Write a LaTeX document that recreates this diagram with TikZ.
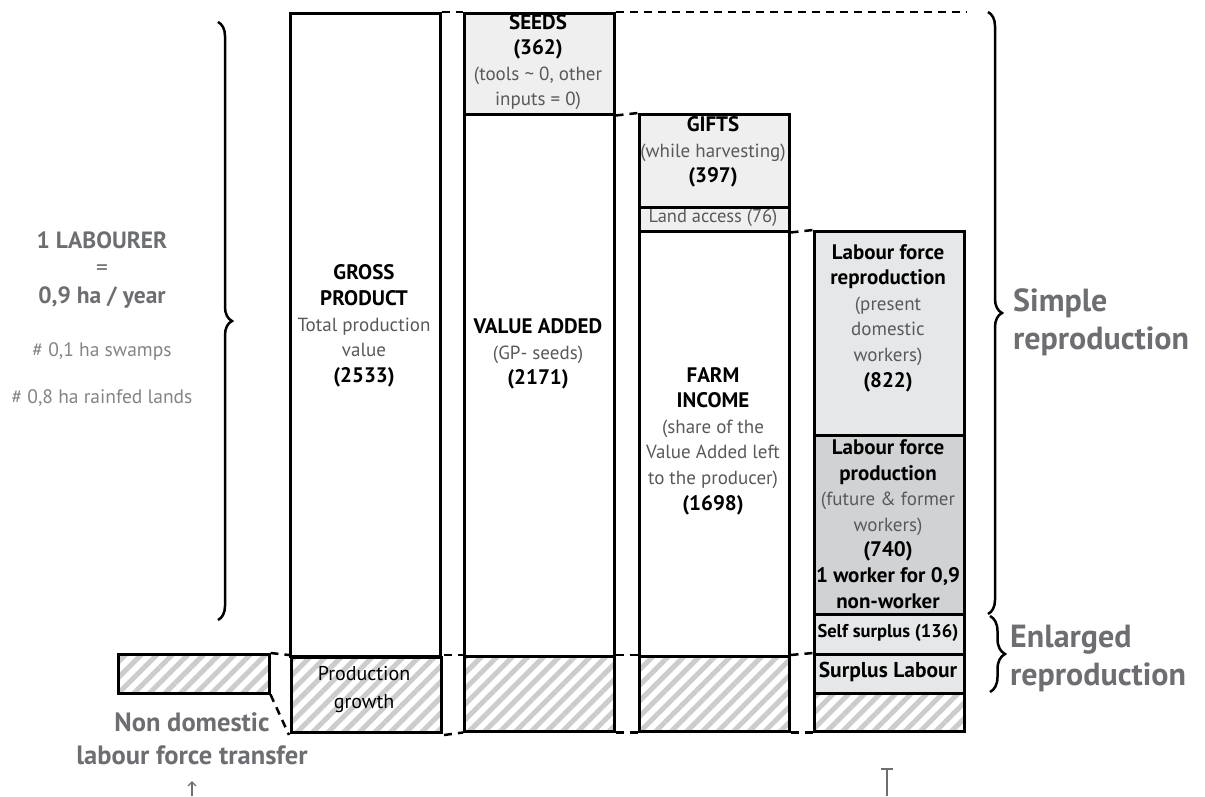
\documentclass[tikz,border=0pt]{standalone}
\usepackage{fontspec}
\setmainfont{PT Sans}
\usetikzlibrary{decorations.pathreplacing,patterns.meta,arrows.meta}

\definecolor{litegray}{HTML}{EFEFF0}
\definecolor{palegray}{HTML}{E6E7E8}
\definecolor{midgray}{HTML}{D1D2D4}
\definecolor{stripegray}{HTML}{CBCCCE}
\definecolor{notegray}{HTML}{6D6E71}
\definecolor{softtext}{HTML}{58595B}

\tikzset{
  box/.style={draw, line width=2.5pt, inner sep=0pt, anchor=north west, minimum width=150pt},
  hatchbox/.style={box, pattern={Lines[angle=45,distance=11pt,line width=5pt]}, pattern color=stripegray},
  link/.style={line width=2.5pt, dash pattern=on 8pt off 6pt},
  brc/.style={decorate, decoration={brace, amplitude=#1}, line width=2.5pt},
  txt/.style={align=center, inner sep=0pt, font=\fontsize{19}{25.6}\selectfont},
  big/.style={align=left, anchor=west, inner sep=0pt, text=notegray, font=\fontsize{32}{38}\selectfont\bfseries},
}
\newcommand{\lite}[1]{{\color{softtext}#1}}
\newcommand{\hd}[1]{{\fontsize{21}{25.6}\selectfont\bfseries #1}}

\begin{document}
\begin{tikzpicture}[x=1pt, y=-1pt]
  \useasboundingbox (0,0) rectangle (1205,796);

  % columns
  \node[box, minimum height=643pt] (gp) at (289,12) {};
  \node[hatchbox, minimum height=75pt] (pg) at (289,655) {};
  \node[box, fill=litegray, minimum height=101pt] (seeds) at (463,12) {};
  \node[box, minimum height=542pt] (va) at (463,113) {};
  \node[hatchbox, minimum height=75pt] (vag) at (463,655) {};
  \node[box, fill=litegray, minimum height=93pt] (gifts) at (638,113) {};
  \node[box, fill=litegray, minimum height=24pt] (land) at (638,206) {};
  \node[box, minimum height=425pt] (fi) at (638,230) {};
  \node[hatchbox, minimum height=75pt] (fig) at (638,655) {};
  \node[box, fill=palegray, minimum height=204pt] (lfr) at (813,230) {};
  \node[box, fill=midgray, minimum height=179pt] (lfp) at (813,434) {};
  \node[box, fill=palegray, minimum height=40pt] (ss) at (813,613) {};
  \node[box, fill=palegray, minimum height=39pt] (sl) at (813,653) {};
  \node[hatchbox, minimum height=38pt] (slg) at (813,692) {};
  \node[hatchbox, minimum width=151pt, minimum height=39pt] (ndl) at (117,653) {};

  % dashed links
  \coordinate (topend) at (966,12);
  \draw[link] (gp.north east) -- (seeds.north west);
  \draw[link] (seeds.north east) -- (topend);
  \draw[link] (seeds.south east) -- (gifts.north west);
  \draw[link] (land.south east) -- (lfr.north west);
  \draw[link] (pg.north east) -- (vag.north west);
  \draw[link] (vag.north east) -- (fig.north west);
  \draw[link] (fig.north east) -- (sl.north west);
  \draw[link] (pg.south east) -- (vag.south west);
  \draw[link] (vag.south east) -- (fig.south west);
  \draw[link] (fig.south east) -- (slg.south west);
  \draw[link] (ndl.north east) -- (pg.north west);
  \draw[link] (ndl.south east) -- (pg.south west);

  % braces
  \coordinate (lbt) at (218,22);
  \coordinate (lbb) at (218,620);
  \coordinate (sbt) at (988,12);
  \coordinate (sbb) at (988,614);
  \coordinate (ebt) at (990,616);
  \coordinate (ebb) at (990,692);
  \draw[brc=14pt] (lbt) -- (lbb);
  \draw[brc=14pt] (sbt) -- (sbb);
  \draw[brc=15pt] (ebt) -- (ebb);

  % column texts
  \node[txt] (gpt) at (364,326) {\hd{GROSS}\\\hd{PRODUCT}\\\lite{Total production}\\\lite{value}\\\hd{(2533)}};
  \node[txt, font=\fontsize{20}{28}\selectfont] (pgt) at (364,690) {Production\\growth};
  \node[txt] (seedst) at (538,62) {\hd{SEEDS}\\\hd{(362)}\\\lite{(tools \textasciitilde{} 0, other}\\\lite{inputs = 0)}};
  \node[txt] (vat) at (538,354) {\hd{VALUE ADDED}\\\lite{(GP- seeds)}\\\hd{(2171)}};
  \node[txt] (giftst) at (713,152) {\hd{GIFTS}\\\lite{(while harvesting)}\\\hd{(397)}};
  \node[txt, font=\fontsize{18.5}{22}\selectfont] (landt) at (713,218) {\lite{Land access (76)}};
  \node[txt] (fit) at (713,441) {\hd{FARM}\\\hd{INCOME}\\\lite{(share of the}\\\lite{Value Added left}\\\lite{to the producer)}\\\hd{(1698)}};
  \node[txt] (lfrt) at (888,318) {\hd{Labour force}\\\hd{reproduction}\\\lite{(present}\\\lite{domestic}\\\lite{workers)}\\\hd{(822)}};
  \node[txt] (lfpt) at (888,524) {\hd{Labour force}\\\hd{production}\\\lite{(future \& former}\\\lite{workers)}\\\hd{(740)}\\\hd{1 worker for 0,9}\\\hd{non-worker}};
  \node[txt, font=\fontsize{18.5}{22}\selectfont\bfseries] (sst) at (888,633) {Self surplus (136)};
  \node[txt, font=\fontsize{21.5}{24}\selectfont\bfseries] (slt) at (888,672) {Surplus Labour};

  % side notes
  \node[align=center, inner sep=0pt, text=notegray, font=\fontsize{23.5}{27.5}\selectfont\bfseries] (lab) at (102,270) {1 LABOURER\\{\mdseries =}\\0,9 ha / year};
  \node[inner sep=0pt, text=notegray!85, font=\fontsize{19.5}{22}\selectfont] (swamp) at (102,351) {\# 0,1 ha swamps};
  \node[inner sep=0pt, text=notegray!85, font=\fontsize{19.5}{22}\selectfont] (rain) at (102,398) {\# 0,8 ha rainfed lands};
  \node[big] (simple) at (1013,322) {Simple\\reproduction};
  \node[big] (enl) at (1010,658) {Enlarged\\reproduction};
  \node[align=center, inner sep=0pt, text=notegray, font=\fontsize{26.5}{33}\selectfont\bfseries] (ndt) at (192,739) {Non domestic\\labour force transfer};

  % arrow stubs
  \coordinate (aup) at (192,781);
  \coordinate (alo) at (192,796);
  \draw[notegray, line width=1.3pt, -{Straight Barb[length=4pt, width=8pt]}] (alo) -- (aup);
  \coordinate (tbar) at (887,768);
  \coordinate (tlo) at (887,796);
  \draw[notegray, line width=1.5pt, {Bar[width=12pt]}-] (tbar) -- (tlo);
\end{tikzpicture}
\end{document}
